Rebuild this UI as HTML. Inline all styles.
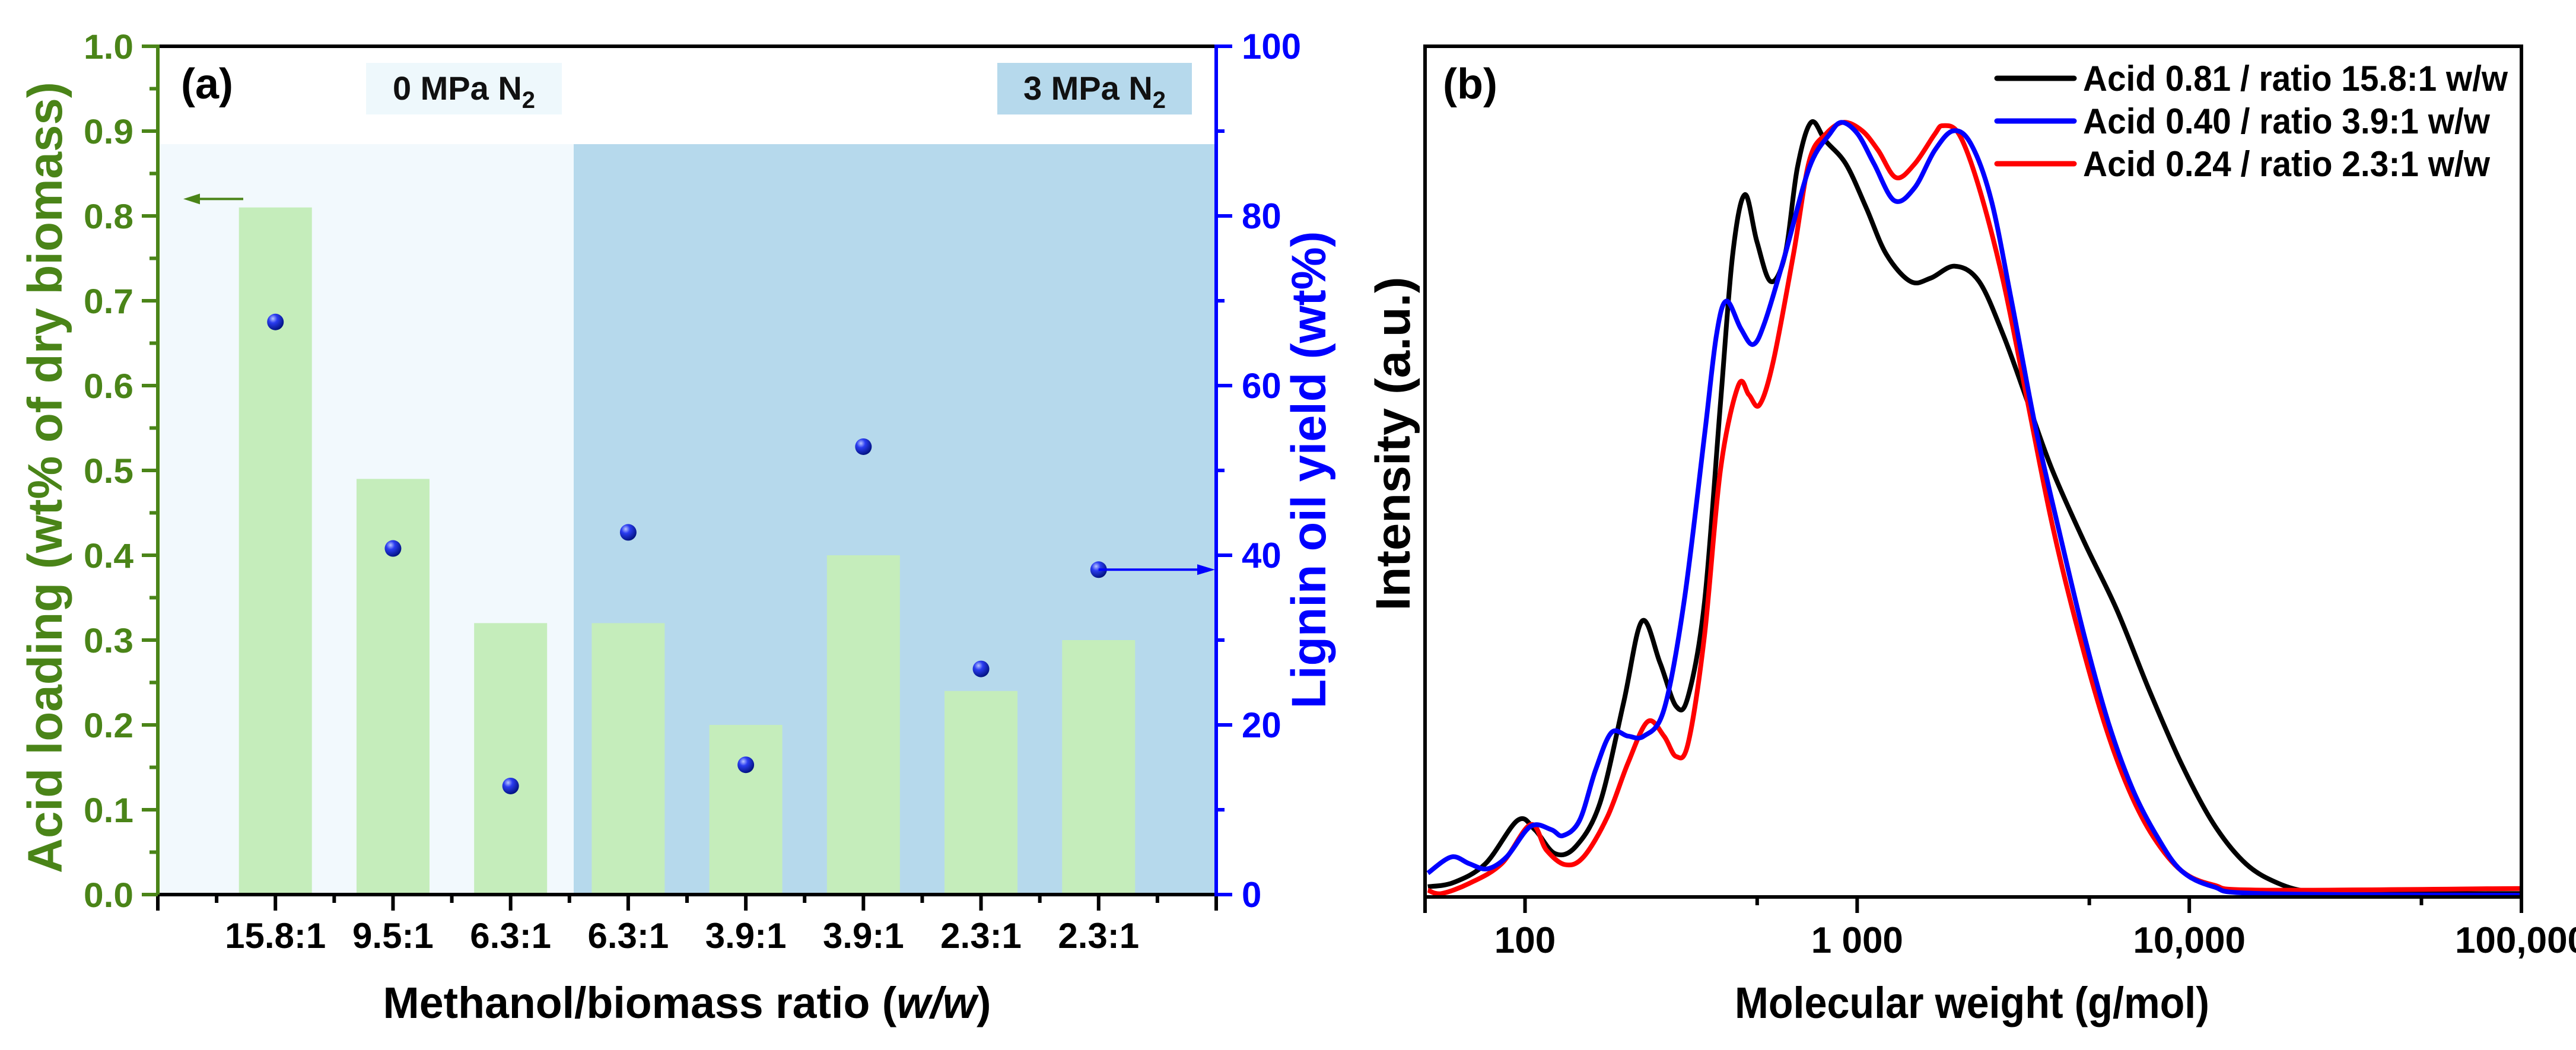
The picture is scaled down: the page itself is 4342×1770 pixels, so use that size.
<!DOCTYPE html>
<html><head><meta charset="utf-8">
<style>
html,body{margin:0;padding:0;background:#fff;}
svg{display:block;font-family:"Liberation Sans",Arial,sans-serif;font-weight:bold;}
</style></head>
<body>
<svg id="fig" width="4342" height="1770" viewBox="0 0 4342 1770" xmlns="http://www.w3.org/2000/svg">
<defs>
<radialGradient id="ball" cx="0.35" cy="0.3" r="0.75">
<stop offset="0" stop-color="#b8c4ff"/><stop offset="0.35" stop-color="#2a3cf0"/><stop offset="1" stop-color="#00107a"/>
</radialGradient>
</defs>
<g id="pa"></g>
<g id="pb"></g>
</svg>
<script>
// ---------- Panel (a) data ----------
const categories = ["15.8:1","9.5:1","6.3:1","6.3:1","3.9:1","3.9:1","2.3:1","2.3:1"];
const acidLoading = [0.81,0.49,0.32,0.32,0.20,0.40,0.24,0.30];
const ligninYield = [67.5,40.8,12.8,42.7,15.3,52.8,26.6,38.3];
const leftTicks = ["0.0","0.1","0.2","0.3","0.4","0.5","0.6","0.7","0.8","0.9","1.0"];
const rightTicks = ["0","20","40","60","80","100"];

// ---------- Panel (b) data ----------
const mwBlack = [51,61,76,95,107,123,142,168,198,225,255,285,310,347,388,422,459,499,549,607,661,727,804,925,1064,1224,1448,1665,1969,2329,2754,3258,3854,4827,6040,7556,9455,11830,14800,18530,23170,32400,100000];
const intBlack = [1.2,1.7,3.9,9.0,7.9,5.1,5.9,11.0,22.8,32.4,27.5,22.4,23.6,34.6,58.2,75.5,82.5,77.0,72.3,75.5,85.7,91.0,88.8,86.1,81.0,75.5,72.3,72.7,74.1,72.3,66.0,58.2,50.3,41.7,33.8,24.4,15.7,8.6,3.9,1.6,0.6,0.4,0.4];
const mwBlue = [51,60,68,77,88,104,120,130,146,163,182,204,228,262,301,347,377,404,446,486,528,607,718,826,899,1005,1125,1294,1489,1712,1948,2205,2536,2917,3451,4083,4827,5715,6761,8000,9455,11830,16560,100000];
const intBlue = [2.8,4.7,3.9,3.3,4.7,8.3,7.9,7.2,9.0,14.9,19.3,18.9,18.9,22.0,34.6,54.2,66.0,70.0,66.8,64.9,67.6,75.5,85.7,89.6,91.0,89.6,86.1,81.8,83.3,87.7,90.0,88.4,81.8,70.0,55.0,42.5,30.7,20.4,12.6,7.1,3.1,1.2,0.4,0.2];
const mwRed = [51,56,68,85,104,116,132,150,177,204,234,262,285,310,347,388,439,472,508,559,643,718,804,910,1036,1157,1309,1489,1712,1811,2027,2329,2754,3258,3854,4560,5555,6577,7782,9455,11830,16560,100000];
const intRed = [0.8,0.4,1.6,3.9,8.5,5.5,3.8,4.7,9.4,15.7,20.6,18.9,16.5,18.1,30.7,50.3,60.1,59.0,57.8,62.9,75.5,86.5,89.6,91.0,90.0,87.7,84.5,86.1,89.6,90.6,89.6,83.3,72.3,58.2,44.0,32.2,20.4,12.6,7.1,3.1,1.4,0.8,1.0];
const xTickValues = [100,1000,10000,100000];
const xTickLabels = ["100","1 000","10,000","100,000"];
const xMinorValues = [500,5000,50000];
const legendLabels = ["Acid  0.81 / ratio 15.8:1 w/w","Acid  0.40 / ratio 3.9:1 w/w","Acid  0.24 / ratio 2.3:1 w/w"];

const NS = "http://www.w3.org/2000/svg";
function mk(parent, tag, attrs, text){
  const e = document.createElementNS(NS, tag);
  for (const k in attrs) e.setAttribute(k, attrs[k]);
  if (text !== undefined) e.textContent = text;
  parent.appendChild(e);
  return e;
}
const GREEN = "#4a8418", BLUE = "#0000ff";

// ===== Panel a =====
const pa = document.getElementById('pa');
const aL = 266, aR = 2050, aT = 78, aB = 1508;
const xa = i => aL + (aR - aL) / 9 * (i + 1);
const ya = v => aB - (aB - aT) * v;
const yr = v => aB - (aB - aT) * v / 100;

let e;
e = mk(pa,'rect',{x:aL,y:243,width:967-aL,height:aB-243,fill:"#f2f9fd"});


e = mk(pa,'rect',{x:967,y:243,width:aR-967,height:aB-243,fill:"#b6d9ec"});


e = mk(pa,'rect',{x:617,y:106,width:330,height:87,fill:"#eef8fc"});


e = mk(pa,'text',{x:782,y:168,"font-size":56,"text-anchor":"middle",fill:"#111"});
e.innerHTML = '0 MPa N<tspan font-size="40" dy="14">2</tspan>';


e = mk(pa,'rect',{x:1681,y:106,width:328,height:87,fill:"#b6d9ec"});


e = mk(pa,'text',{x:1845,y:168,"font-size":56,"text-anchor":"middle",fill:"#111"});
e.innerHTML = '3 MPa N<tspan font-size="40" dy="14">2</tspan>';



const bw = 123;
acidLoading.forEach((v,i)=>{
  const b = mk(pa,'rect',{x:xa(i)-bw/2,y:ya(v),width:bw,height:aB-ya(v),fill:"#c5edbb"});
  
  
});
ligninYield.forEach((v,i)=>{
  const c = mk(pa,'circle',{cx:xa(i),cy:yr(v),r:14,fill:"url(#ball)"});
  
  
});
// arrows
e = mk(pa,'g',{});


mk(e,'line',{x1:410,y1:ya(0.82),x2:325,y2:ya(0.82),stroke:GREEN,"stroke-width":4});
mk(e,'path',{d:`M309 ${ya(0.82)} l28 -9 l0 18 z`,fill:GREEN});
e = mk(pa,'g',{});


mk(e,'line',{x1:xa(7),y1:yr(38.3),x2:aR-18,y2:yr(38.3),stroke:BLUE,"stroke-width":4});
mk(e,'path',{d:`M${aR-2} ${yr(38.3)} l-30 -9 l0 18 z`,fill:BLUE});

// axes
mk(pa,'line',{x1:aL,y1:aT,x2:aR,y2:aT,stroke:"#000","stroke-width":6});
e = mk(pa,'g',{});  
mk(e,'line',{x1:aL-3,y1:aB,x2:aR+3,y2:aB,stroke:"#000","stroke-width":6});
for (let k=0;k<=18;k++){
  const x = aL + (aR-aL)/18*k;
  const major = k%2===0;
  mk(e,'line',{x1:x,y1:aB,x2:x,y2:aB+(major?27:14),stroke:"#000","stroke-width":6});
}
categories.forEach((c,i)=>{
  const t = mk(e,'text',{x:xa(i),y:1598,"font-size":60,"text-anchor":"middle",fill:"#000"},c);
  
  
});
e = mk(pa,'text',{x:1158,y:1716,"font-size":74,"text-anchor":"middle",fill:"#000",textLength:1025,lengthAdjust:"spacingAndGlyphs"});
e.innerHTML = 'Methanol/biomass ratio (<tspan font-style="italic">w/w</tspan>)';



e = mk(pa,'g',{});  
mk(e,'line',{x1:aL,y1:aT-3,x2:aL,y2:aB,stroke:GREEN,"stroke-width":6});
for (let k=0;k<=20;k++){
  const y = ya(k/20);
  mk(e,'line',{x1:aL,y1:y,x2:aL-(k%2===0?27:14),y2:y,stroke:GREEN,"stroke-width":6});
}
leftTicks.forEach((t,i)=>{
  const tt = mk(e,'text',{x:225,y:ya(i/10)+21,"font-size":58,"text-anchor":"end",fill:GREEN,textLength:84,lengthAdjust:"spacingAndGlyphs"},t);
  
  
});
e = mk(pa,'text',{x:0,y:0,"font-size":82,"text-anchor":"middle",fill:GREEN,transform:"translate(104,805) rotate(-90)",textLength:1334,lengthAdjust:"spacingAndGlyphs"},"Acid loading (wt% of dry biomass)");



e = mk(pa,'g',{});  
mk(e,'line',{x1:aR,y1:aT-3,x2:aR,y2:aB+3,stroke:BLUE,"stroke-width":6});
for (let k=0;k<=10;k++){
  const y = yr(k*10);
  mk(e,'line',{x1:aR,y1:y,x2:aR+(k%2===0?27:14),y2:y,stroke:BLUE,"stroke-width":6});
}
rightTicks.forEach((t,i)=>{
  const tt = mk(e,'text',{x:2093,y:yr(i*20)+21,"font-size":60,fill:BLUE},t);
  
  
});
e = mk(pa,'text',{x:0,y:0,"font-size":82,"text-anchor":"middle",fill:BLUE,transform:"translate(2234,792) rotate(-90)",textLength:805,lengthAdjust:"spacingAndGlyphs"},"Lignin oil yield (wt%)");


e = mk(pa,'text',{x:305,y:166,"font-size":72,fill:"#000"},"(a)");



// ===== Panel b =====
const pb = document.getElementById('pb');
const bL = 2402, bR = 4250, bT = 78, bB = 1512;
const lmin = Math.log10(50), lmax = 5;
const xb = m => bL + (bR - bL) * (Math.log10(m) - lmin) / (lmax - lmin);
const yb = v => bB - (bB - 77) * v / 100;

function curvePath(mws, ints){
  const p = mws.map((m,i)=>[xb(m), yb(ints[i])]);
  let d = `M${p[0][0].toFixed(1)} ${p[0][1].toFixed(1)}`;
  for (let i=0;i<p.length-1;i++){
    const p0 = p[Math.max(0,i-1)], p1 = p[i], p2 = p[i+1], p3 = p[Math.min(p.length-1,i+2)];
    const c1 = [p1[0]+(p2[0]-p0[0])/6, p1[1]+(p2[1]-p0[1])/6];
    const c2 = [p2[0]-(p3[0]-p1[0])/6, p2[1]-(p3[1]-p1[1])/6];
    d += ` C${c1[0].toFixed(1)} ${c1[1].toFixed(1)} ${c2[0].toFixed(1)} ${c2[1].toFixed(1)} ${p2[0].toFixed(1)} ${p2[1].toFixed(1)}`;
  }
  return d;
}
const clip = mk(pb,'clipPath',{id:"clipb"});
mk(clip,'rect',{x:bL,y:bT,width:bR-bL,height:bB-bT});
const series = [[mwBlack,intBlack,"#000","curve-black"],[mwBlue,intBlue,"#0000ff","curve-blue"],[mwRed,intRed,"#ff0000","curve-red"]];
[series[0],series[2],series[1]].forEach(s=>{
  const pth = mk(pb,'path',{d:curvePath(s[0],s[1]),fill:"none",stroke:s[2],"stroke-width":8,"clip-path":"url(#clipb)","stroke-linejoin":"round"});
  
  
});
e = mk(pb,'rect',{x:bL,y:bT,width:bR-bL,height:bB-bT,fill:"none",stroke:"#000","stroke-width":6});


e = mk(pb,'g',{});  
mk(e,'line',{x1:bL,y1:bB,x2:bL,y2:bB+27,stroke:"#000","stroke-width":6});
xTickValues.forEach((v,i)=>{
  mk(e,'line',{x1:xb(v),y1:bB,x2:xb(v),y2:bB+27,stroke:"#000","stroke-width":6});
  const t = mk(e,'text',{x:xb(v),y:1606,"font-size":62,"text-anchor":"middle",fill:"#000"},xTickLabels[i]);
  
  
});
xMinorValues.forEach(v=>{
  mk(e,'line',{x1:xb(v),y1:bB,x2:xb(v),y2:bB+14,stroke:"#000","stroke-width":6});
});
e = mk(pb,'text',{x:3324,y:1716,"font-size":74,"text-anchor":"middle",fill:"#000",textLength:800,lengthAdjust:"spacingAndGlyphs"},"Molecular weight (g/mol)");


e = mk(pb,'text',{x:0,y:0,"font-size":82,"text-anchor":"middle",fill:"#000",transform:"translate(2376,748) rotate(-90)",textLength:563,lengthAdjust:"spacingAndGlyphs"},"Intensity (a.u.)");


e = mk(pb,'text',{x:2432,y:166,"font-size":72,fill:"#000"},"(b)");


const legCols = ["#000","#0000ff","#ff0000"];
const legend = mk(pb,'g',{});


legendLabels.forEach((l,i)=>{
  const y = 132 + i*72;
  const g = mk(legend,'g',{});
  
  
  mk(g,'line',{x1:3366,y1:y,x2:3496,y2:y,stroke:legCols[i],"stroke-width":9,"stroke-linecap":"round"});
  const w = i===0 ? 716 : 686;
  mk(g,'text',{x:3511,y:y+21,"font-size":60,fill:"#000",textLength:w,lengthAdjust:"spacingAndGlyphs"},l);
});
</script>
</body></html>
